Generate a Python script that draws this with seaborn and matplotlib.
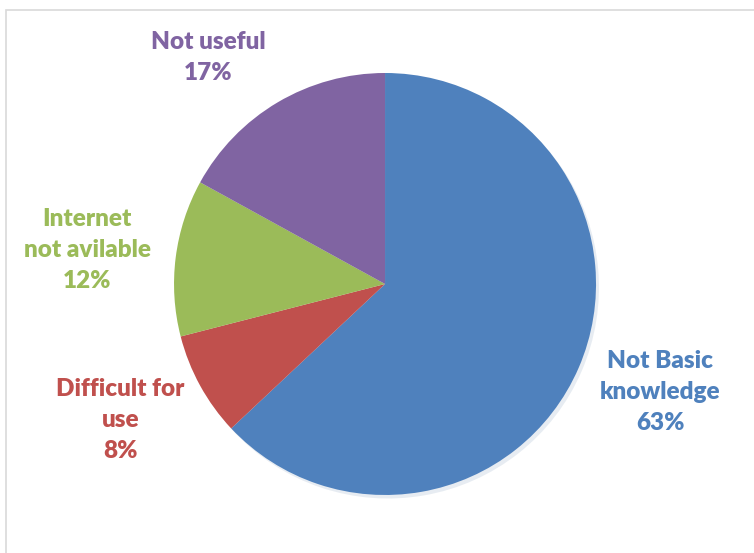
import numpy as np
import matplotlib
matplotlib.use("Agg")
import matplotlib.pyplot as plt
import seaborn as sns
from matplotlib.patches import Rectangle

sns.set_style("white")
plt.rcParams["font.family"] = ["Lato", "DejaVu Sans"]

labels = ["Not Basic\nknowledge", "Difficult for\nuse", "Internet\nnot avilable", "Not useful"]
values = [63, 8, 12, 17]
colors = ["#4F81BD", "#C0504D", "#9BBB59", "#8064A2"]

# label placement tweaks (radius, angle shift in degrees)
lab_r = [1.40, 1.41, 1.42, 1.36]
lab_shift = [2.0, -1.6, 0.7, 7.4]

fig = plt.figure(figsize=(7.54, 5.53), dpi=100)
fig.patches.append(Rectangle((6 / 754, -0.1), 1.2, (553 - 10) / 553 + 0.1,
                             transform=fig.transFigure, fill=False,
                             edgecolor="#D9D9D9", linewidth=1.2))

ax = fig.add_axes([0.2308, 0.1049, 0.5597, 0.7631])
wedges, _ = ax.pie(values, colors=colors, startangle=90, counterclock=False,
                   radius=1, wedgeprops=dict(linewidth=0),
                   shadow=dict(ox=0.01, oy=-0.012, shade=0.2, alpha=0.12))
ax.set_xlim(-1, 1)
ax.set_ylim(-1, 1)
ax.axis("off")

for i, w in enumerate(wedges):
    ang = np.deg2rad((w.theta1 + w.theta2) / 2 + lab_shift[i])
    x = lab_r[i] * np.cos(ang)
    y = lab_r[i] * np.sin(ang)
    ax.text(x, y, f"{labels[i]}\n{values[i]}%", ha="center", va="center",
            color=colors[i], fontsize=17.5, fontweight="heavy",
            linespacing=1.5, clip_on=False)

fig.savefig("out.png", dpi=100)
